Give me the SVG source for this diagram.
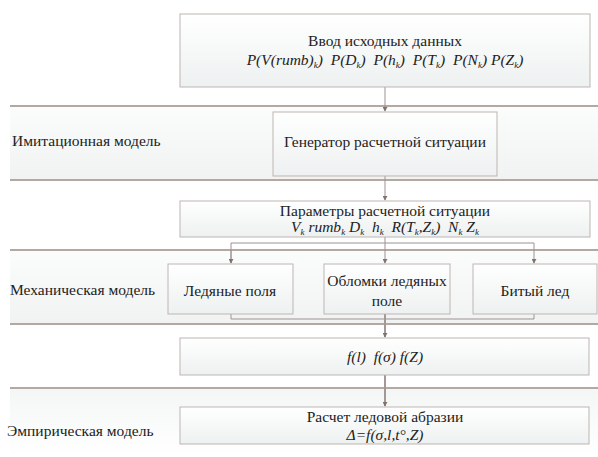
<svg xmlns="http://www.w3.org/2000/svg" width="598" height="457" viewBox="0 0 598 457">
<defs>
<linearGradient id="gBox" x1="0" y1="0" x2="0" y2="1">
<stop offset="0" stop-color="#ffffff"/>
<stop offset="1" stop-color="#eef1f1"/>
</linearGradient>
<linearGradient id="gLane" x1="0" y1="0" x2="0" y2="1">
<stop offset="0" stop-color="#fbfcfc"/>
<stop offset="1" stop-color="#f1f3f3"/>
</linearGradient>
<linearGradient id="gLane3" x1="0" y1="0" x2="0" y2="1">
<stop offset="0" stop-color="#f4f6f6"/>
<stop offset="1" stop-color="#ffffff"/>
</linearGradient>
<marker id="arr" viewBox="0 0 6 6" refX="5" refY="3" markerWidth="5" markerHeight="5" orient="auto" markerUnits="userSpaceOnUse">
<path d="M0,0 L6,3 L0,6 z" fill="#7d7470"/>
</marker>
<style>
.laneline { stroke: #b3a9a2; stroke-width: 2; fill: none; }
.box { fill: url(#gBox); stroke: #bdb5b0; stroke-width: 1; }
.conn { stroke: #9c9390; stroke-width: 1; fill: none; }
.thick { stroke: #a29996; stroke-width: 2; fill: none; }
.t { font-family: "Liberation Serif", "Times New Roman", serif; font-size: 15.5px; fill: #222; white-space: pre; }
.c { text-anchor: middle; }
.i { font-style: italic; }
.sub { font-size: 9px; }
</style>
</defs>

<g id="lanes">
<rect x="10" y="106" width="588" height="74" fill="url(#gLane)"/>
<line class="laneline" x1="10" y1="106" x2="598" y2="106"/>
<line class="laneline" x1="10" y1="180" x2="598" y2="180"/>
<text class="t" x="12" y="146">Имитационная модель</text>

<rect x="10" y="250" width="588" height="74" fill="url(#gLane)"/>
<line class="laneline" x1="10" y1="250" x2="598" y2="250"/>
<line class="laneline" x1="10" y1="324" x2="598" y2="324"/>
<text class="t" x="10" y="295">Механическая модель</text>

<rect x="10" y="388" width="588" height="69" fill="url(#gLane3)"/>
<line class="laneline" x1="10" y1="388" x2="598" y2="388"/>
<text class="t" x="7" y="436">Эмпирическая модель</text>
</g>

<g id="connectors">
<line class="conn" x1="385" y1="87" x2="385" y2="111" marker-end="url(#arr)"/>
<line class="conn" x1="385" y1="176" x2="385" y2="200" marker-end="url(#arr)"/>
<line class="conn" x1="385" y1="237" x2="385" y2="263" marker-end="url(#arr)"/>
<polyline class="conn" points="231,263 231,243 534,243 534,263" marker-end="url(#arr)"/>
<line class="conn" x1="231" y1="250" x2="231" y2="263" marker-end="url(#arr)"/>
<polyline class="conn" points="231,314 231,319 534,319 534,314"/>
<line class="thick" x1="385" y1="314" x2="385" y2="337" marker-end="url(#arr)"/>
<line class="thick" x1="385" y1="375" x2="385" y2="406" marker-end="url(#arr)"/>
</g>

<g id="n-input">
<rect class="box" x="180" y="14" width="410" height="73"/>
<text class="t c" x="385" y="46">Ввод исходных данных</text>
<text class="t c i" x="385" y="65">P(V(rumb)<tspan class="sub" dy="3">k</tspan><tspan dy="-3">)  P(D</tspan><tspan class="sub" dy="3">k</tspan><tspan dy="-3">)  P(h</tspan><tspan class="sub" dy="3">k</tspan><tspan dy="-3">)  P(T</tspan><tspan class="sub" dy="3">k</tspan><tspan dy="-3">)  P(N</tspan><tspan class="sub" dy="3">k</tspan><tspan dy="-3">) P(Z</tspan><tspan class="sub" dy="3">k</tspan><tspan dy="-3">)</tspan></text>
</g>

<g id="n-generator">
<rect class="box" x="273" y="112" width="224" height="64"/>
<text class="t c" x="385" y="147">Генератор расчетной ситуации</text>
</g>

<g id="n-params">
<rect class="box" x="180" y="201" width="410" height="36"/>
<text class="t c" x="385" y="216">Параметры расчетной ситуации</text>
<text class="t c i" x="385" y="232">V<tspan class="sub" dy="3">k</tspan><tspan dy="-3"> rumb</tspan><tspan class="sub" dy="3">k</tspan><tspan dy="-3"> D</tspan><tspan class="sub" dy="3">k</tspan><tspan dy="-3">  h</tspan><tspan class="sub" dy="3">k</tspan><tspan dy="-3">  R(T</tspan><tspan class="sub" dy="3">k</tspan><tspan dy="-3">,Z</tspan><tspan class="sub" dy="3">k</tspan><tspan dy="-3">)  N</tspan><tspan class="sub" dy="3">k</tspan><tspan dy="-3"> Z</tspan><tspan class="sub" dy="3">k</tspan></text>
</g>

<g id="n-fields">
<rect class="box" x="168" y="264" width="125" height="50"/>
<text class="t c" x="230" y="296">Ледяные поля</text>
</g>

<g id="n-fragments">
<rect class="box" x="324" y="264" width="126" height="50"/>
<text class="t c" x="387" y="286">Обломки ледяных</text>
<text class="t c" x="387" y="306">поле</text>
</g>

<g id="n-broken">
<rect class="box" x="473" y="264" width="124" height="50"/>
<text class="t c" x="535" y="296">Битый лед</text>
</g>

<g id="n-functions">
<rect class="box" x="180" y="338" width="409" height="37"/>
<text class="t c i" x="385" y="362">f(l)  f(σ) f(Z)</text>
</g>

<g id="n-abrasion">
<rect class="box" x="180" y="407" width="409" height="37"/>
<text class="t c" x="385" y="422">Расчет ледовой абразии</text>
<text class="t c i" x="385" y="440">Δ=f(σ,l,t°,Z)</text>
</g>
</svg>
